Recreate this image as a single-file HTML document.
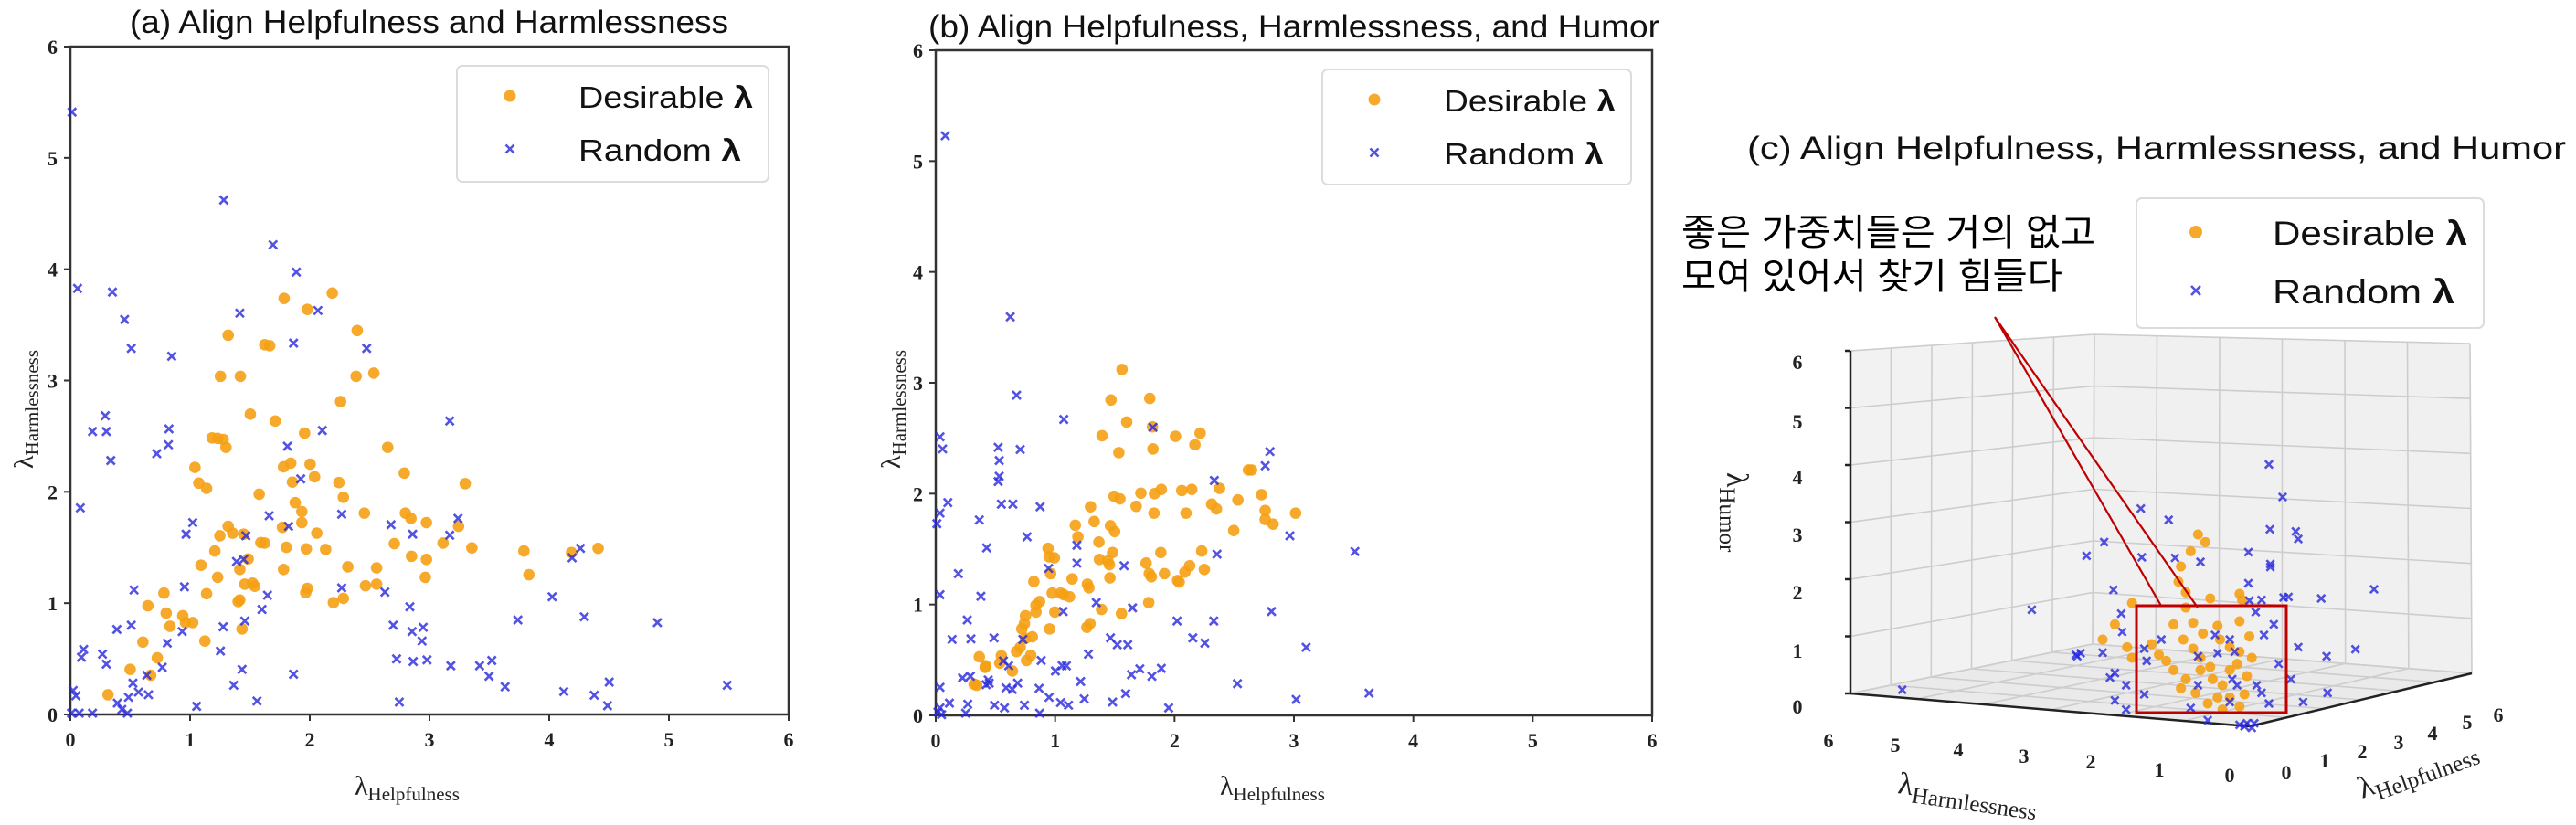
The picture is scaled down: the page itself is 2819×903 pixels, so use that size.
<!DOCTYPE html>
<html><head><meta charset="utf-8"><style>
html,body{margin:0;padding:0;background:#fff;}
svg{display:block;}
.t{font-family:"Liberation Sans",sans-serif;fill:#111;}
.s{font-family:"Liberation Serif",serif;font-weight:bold;fill:#222;}
.k{font-family:"Liberation Sans","Noto Sans CJK KR",sans-serif;fill:#000;}
</style></head><body>
<svg id="svg" width="2819" height="903" viewBox="0 0 2819 903" xmlns="http://www.w3.org/2000/svg">
<rect width="2819" height="903" fill="#fff"/>
<g id="g3d"></g>
<g id="pts"></g>
<text class="t" x="142" y="36" font-size="35" textLength="655" lengthAdjust="spacingAndGlyphs">(a) Align Helpfulness and Harmlessness</text>
<text class="t" x="1016" y="41" font-size="35" textLength="800" lengthAdjust="spacingAndGlyphs">(b) Align Helpfulness, Harmlessness, and Humor</text>
<text class="t" x="1912" y="174" font-size="35" textLength="896" lengthAdjust="spacingAndGlyphs">(c) Align Helpfulness, Harmlessness, and Humor</text>
<text class="k" x="1840" y="268" font-size="40" textLength="453" lengthAdjust="spacingAndGlyphs">좋은 가중치들은 거의 없고</text>
<text class="k" x="1840" y="316" font-size="40" textLength="417" lengthAdjust="spacingAndGlyphs">모여 있어서 찾기 힘들다</text>
<rect x="500" y="72" width="341" height="127" rx="6" fill="#fff" stroke="#dcdcdc" stroke-width="2"/>
<rect x="1447" y="76" width="338" height="126" rx="6" fill="#fff" stroke="#dcdcdc" stroke-width="2"/>
<rect x="2338" y="217" width="380" height="142" rx="6" fill="#fff" stroke="#dcdcdc" stroke-width="2"/>
<text class="t" x="633" y="118" font-size="33" textLength="191" lengthAdjust="spacingAndGlyphs">Desirable <tspan font-weight="bold">λ</tspan></text>
<text class="t" x="633" y="176" font-size="33" textLength="178" lengthAdjust="spacingAndGlyphs">Random <tspan font-weight="bold">λ</tspan></text>
<text class="t" x="1580" y="122" font-size="33" textLength="188" lengthAdjust="spacingAndGlyphs">Desirable <tspan font-weight="bold">λ</tspan></text>
<text class="t" x="1580" y="180" font-size="33" textLength="175" lengthAdjust="spacingAndGlyphs">Random <tspan font-weight="bold">λ</tspan></text>
<text class="t" x="2487" y="268" font-size="37" textLength="213" lengthAdjust="spacingAndGlyphs">Desirable <tspan font-weight="bold">λ</tspan></text>
<text class="t" x="2487" y="332" font-size="37" textLength="199" lengthAdjust="spacingAndGlyphs">Random <tspan font-weight="bold">λ</tspan></text>
<text class="s" x="388" y="870" font-size="30" style="font-weight:normal">λ<tspan font-size="21" dy="6">Helpfulness</tspan></text>
<text class="s" x="1335" y="870" font-size="30" style="font-weight:normal">λ<tspan font-size="21" dy="6">Helpfulness</tspan></text>
<text class="s" transform="translate(36,513) rotate(-90)" font-size="30" style="font-weight:normal">λ<tspan font-size="21" dy="6">Harmlessness</tspan></text>
<text class="s" transform="translate(985,513) rotate(-90)" font-size="30" style="font-weight:normal">λ<tspan font-size="21" dy="6">Harmlessness</tspan></text>
<text class="s" transform="translate(2076,868) rotate(8)" font-size="34" style="font-weight:normal">λ<tspan font-size="25" dy="8">Harmlessness</tspan></text>
<text class="s" transform="translate(2585,874) rotate(-20)" font-size="34" style="font-weight:normal">λ<tspan font-size="25" dy="8">Helpfulness</tspan></text>
<text class="s" transform="translate(1890,517) rotate(90)" font-size="34" style="font-weight:normal">λ<tspan font-size="25" dy="8">Humor</tspan></text>
<g id="top"></g>
</svg>
<script>
var NS="http://www.w3.org/2000/svg";
function el(p,n,a){var e=document.createElementNS(NS,n);for(var k in a)e.setAttribute(k,a[k]);p.appendChild(e);return e;}
var svg=document.getElementById('svg'),G=document.getElementById('pts'),G3=document.getElementById('g3d'),TOP=document.getElementById('top');
var OR='rgba(245,160,20,0.9)',BL='rgba(40,40,220,0.8)';
function dot(g,x,y,r){el(g,'circle',{cx:x,cy:y,r:r,fill:OR});}
function cross(g,x,y,s){el(g,'path',{d:'M'+(x-s)+' '+(y-s)+'L'+(x+s)+' '+(y+s)+'M'+(x-s)+' '+(y+s)+'L'+(x+s)+' '+(y-s),stroke:BL,'stroke-width':2.6,fill:'none'});}
function axes(x0,x1,y0,y1){
 el(G,'rect',{x:x0,y:y0,width:x1-x0,height:y1-y0,fill:'none',stroke:'#333','stroke-width':2.5});
 for(var i=0;i<=6;i++){var x=x0+(x1-x0)*i/6,y=y1-(y1-y0)*i/6;
  el(G,'line',{x1:x,y1:y1,x2:x,y2:y1+7,stroke:'#333','stroke-width':2});
  el(G,'line',{x1:x0-7,y1:y,x2:x0,y2:y,stroke:'#333','stroke-width':2});
  var t=el(svg,'text',{x:x,y:y1+35,'class':'s','font-size':22,'text-anchor':'middle'});t.textContent=i;
  t=el(svg,'text',{x:x0-14,y:y+8,'class':'s','font-size':22,'text-anchor':'end'});t.textContent=i;}
}
axes(77,863,51,782);axes(1024,1808,55,783);
var aO=[555,588,513,567,600,557,645,628,487,657,478,655,412,637,398,715,434,715,643,715,675,709,615,763,452,787,497,800,383,832,393,833,403,835,408,850,550,823,700,850,352,888,359,918,373,928,512,887,525,880,560,882,612,917,620,945,568,906,730,899,840,919,468,939,528,916,533,955,545,972,545,993,658,975,732,975,742,985,770,993,800,1032,828,1000,852,1041,946,1047,955,1092,1080,1042,1032,1050,712,1033,743,1057,770,1063,768,1097,628,1077,680,1079,517,1040,553,1043,572,1013,588,1044,471,1031,448,1062,412,1000,397,1018,388,1047,363,1074,393,1097,373,1128,456,1108,460,1114,433,1082,433,1140,430,1143,437,1195,512,1082,555,1118,552,1126,602,1145,620,1137,660,1113,680,1110,510,1002,478,1032,267,1151,296,1127,300,1165,307,1190,330,1170,335,1183,348,1183,370,1218,258,1220,284,1250,272,1283,235,1272,195,1320,420,1013,442,1110,440,1015];
var aB=[130,213,140,548,203,555,225,607,237,662,310,677,404,380,493,465,535,517,433,595,530,652,574,590,662,662,190,790,167,820,192,820,200,875,305,815,304,845,283,862,145,965,336,1015,348,993,444,1018,440,1063,427,1067,486,980,521,1000,543,910,519,848,582,818,617,977,706,997,745,1015,812,800,827,985,812,1017,1048,1042,1033,1060,997,1134,1055,1172,1187,1183,935,1178,617,1117,695,1125,740,1153,710,1188,744,1200,764,1192,762,1218,716,1252,746,1257,771,1254,814,1265,866,1265,888,1255,883,1285,912,1305,1018,1314,1073,1321,1100,1296,1097,1341,1313,1302,721,1334,530,1281,464,1332,437,1272,422,1302,442,1180,473,1158,483,1131,403,1191,398,1237,333,1115,329,1200,302,1222,293,1268,242,1121,237,1188,211,1196,185,1243,192,1262,151,1234,147,1249,240,1298,265,1283,268,1320,250,1315,232,1325,212,1336,220,1348,230,1355,355,1342,167,1355,143,1355,132,1312,137,1322,129,1355];
var bO=[484,702,463,760,537,757,493,802,446,828,478,860,543,853,586,829,633,823,623,845,542,811,520,937,546,938,559,930,598,932,617,930,469,943,480,948,424,963,511,962,545,975,395,998,431,991,462,999,470,1010,655,958,670,928,664,967,705,950,725,893,731,893,750,940,757,970,757,987,772,996,815,975,697,1008,606,975,400,1020,440,1030,441,1063,466,1050,460,1073,461,1098,457,1066,343,1042,345,1058,355,1060,316,1105,320,1150,327,1143,348,1090,351,1127,356,1163,346,1195,367,1127,373,1130,384,1134,389,1100,418,1110,421,1117,445,1158,423,1185,417,1192,483,1166,535,1145,530,1070,536,1090,540,1096,558,1050,565,1090,590,1103,604,1087,613,1075,636,1047,641,1082,593,1106,320,1163,300,1170,298,1185,293,1195,313,1210,310,1245,302,1255,283,1238,275,1275,254,1246,251,1260,223,1268,212,1248,202,1300,224,1265,207,1302,300,1213,290,1230];
var bB=[147,258,271,602,283,751,373,797,290,854,137,830,142,853,152,955,137,975,131,995,248,850,250,875,250,905,248,915,254,958,276,958,212,988,303,1020,328,963,226,1041,172,1090,137,1130,215,1133,344,1080,398,1036,398,1070,372,1162,435,1145,504,1155,488,1075,543,812,660,913,766,858,757,885,804,1018,928,1048,665,1053,589,1180,619,1212,642,1222,659,1180,769,1162,835,1230,704,1299,816,1329,955,1317,573,1345,559,1270,541,1285,518,1271,502,1282,475,1225,495,1225,462,1212,420,1243,405,1295,370,1265,378,1265,357,1275,330,1255,295,1215,285,1298,263,1307,258,1256,196,1214,189,1178,160,1215,180,1288,190,1338,186,1355,195,1285,225,1301,231,1298,241,1340,260,1345,275,1310,298,1340,326,1308,345,1325,367,1335,382,1340,412,1328,491,1318,466,1334,327,1355,155,1336,137,1306,137,1345,133,1353,140,1358,229,1292,240,1212,268,1265];
var i;
for(i=0;i<aO.length;i+=2)dot(G,aO[i]/1.65,aO[i+1]/1.736,6.3);
for(i=0;i<aB.length;i+=2)cross(G,aB[i]/1.65,aB[i+1]/1.736,4.5);
for(i=0;i<bO.length;i+=2)dot(G,950+bO[i]/1.742,bO[i+1]/1.736,6.3);
for(i=0;i<bB.length;i+=2)cross(G,950+bB[i]/1.742,bB[i+1]/1.736,4.5);
dot(TOP,558,105,6.5);cross(TOP,558,163,4.5);
dot(TOP,1504,109,6.5);cross(TOP,1504,167,4.5);
dot(TOP,2403,254,7);cross(TOP,2403,318,5);
var F={'00':[2462,795],'60':[2025,759],'06':[2705,737],'66':[2290,705]};
var T={'60':[2025,384],'66':[2292,366],'06':[2703,376],'00':[2462,415]};
function bil(C,h,p){var a=h/6,b=p/6;var r=[0,0];for(var k=0;k<2;k++)r[k]=(1-a)*(1-b)*C['00'][k]+a*(1-b)*C['60'][k]+(1-a)*b*C['06'][k]+a*b*C['66'][k];return r;}
function P(h,p,z){var f=bil(F,h,p),t=bil(T,h,p),c=z/6;return [f[0]+(t[0]-f[0])*c,f[1]+(t[1]-f[1])*c];}
function poly(pts,fill){el(G3,'polygon',{points:pts.map(function(q){return q.join(',')}).join(' '),fill:fill});}
poly([P(6,0,0),P(6,6,0),P(6,6,6),P(6,0,6)],'#f2f2f2');
poly([P(6,6,0),P(0,6,0),P(0,6,6),P(6,6,6)],'#f0f0f0');
poly([P(0,0,0),P(6,0,0),P(6,6,0),P(0,6,0)],'#eaeaea');
function ln(a,b,c,w){el(G3,'line',{x1:a[0],y1:a[1],x2:b[0],y2:b[1],stroke:c,'stroke-width':w});}
var gc='#cdcdcd';
for(i=0;i<=6;i++){
 ln(P(6,i,0),P(6,i,6),gc,1.6); ln(P(6,0,i),P(6,6,i),gc,1.6);
 ln(P(i,6,0),P(i,6,6),gc,1.6); ln(P(6,6,i),P(0,6,i),gc,1.6);
 ln(P(i,0,0),P(i,6,0),gc,1.6); ln(P(0,i,0),P(6,i,0),gc,1.6);
}
ln(P(6,0,0),P(6,0,6),'#222',2.5);
ln(P(6,0,0),P(0,0,0),'#222',2.5);
ln(P(0,0,0),P(0,6,0),'#222',2.5);
var hy=[773,712,648,585,522,461,396];
for(i=0;i<=6;i++){var q=P(6,0,i);ln([q[0]-6,q[1]],q,'#222',2.5);
 var t=el(svg,'text',{x:1967,y:hy[i]+8,'class':'s','font-size':22,'text-anchor':'middle'});t.textContent=i;}
var hl=[[2440,848],[2363,842],[2288,833],[2215,827],[2143,820],[2074,815],[2001,810]];
var pl=[[2502,845],[2544,832],[2585,822],[2625,812],[2662,802],[2700,790],[2734,782]];
for(i=0;i<=6;i++){var t=el(svg,'text',{x:hl[i][0],y:hl[i][1]+8,'class':'s','font-size':22,'text-anchor':'middle'});t.textContent=i;
 t=el(svg,'text',{x:pl[i][0],y:pl[i][1]+8,'class':'s','font-size':22,'text-anchor':'middle'});t.textContent=i;}
var cO=[795,615,810,640,780,670,760,720,755,770,770,805,820,825,880,810,885,830,660,840,770,855,745,910,785,905,805,940,835,915,880,900,625,910,600,960,650,985,700,975,715,1010,765,960,785,990,800,1020,840,960,860,985,880,1000,745,1060,770,1090,820,1050,825,1090,845,1110,860,1150,880,1180,835,1150,875,1040,895,1080,890,1140,660,1020,730,1030,800,1060,760,1120,790,1135,815,1170,845,1190,860,1060,900,950,905,1020];
var cB=[940,385,968,492,942,598,995,605,1000,630,678,530,735,567,603,640,567,685,680,690,748,692,800,705,898,673,943,712,943,722,898,775,622,797,1155,795,1047,825,970,822,980,820,925,830,900,832,638,875,455,862,913,870,950,910,640,935,930,945,1000,985,1058,1015,1117,992,545,1010,548,1015,190,1125,685,990,720,960,690,1030,795,1015,835,1005,870,1000,830,945,860,960,960,1040,985,1090,1060,1135,1010,1165,615,1085,625,1070,648,1110,625,1160,648,1190,685,1140,795,1110,865,1090,875,1110,915,1110,925,1135,940,1170,860,1165,780,1185,815,1225,895,1235,880,1240,905,1250,890,1245,910,1235,600,1003,555,1005];
for(i=0;i<cO.length;i+=2)dot(G,1980+cO[i]/1.869,380+cO[i+1]/3.0,5.5);
for(i=0;i<cB.length;i+=2)cross(G,1980+cB[i]/1.869,380+cB[i+1]/3.0,4.2);
el(TOP,'rect',{x:2338,y:663,width:164,height:117,fill:'none',stroke:'#c00000','stroke-width':3});
el(TOP,'polyline',{points:'2365,663 2183,347 2405,665',fill:'none',stroke:'#c00000','stroke-width':2.2});
</script>
</body></html>
